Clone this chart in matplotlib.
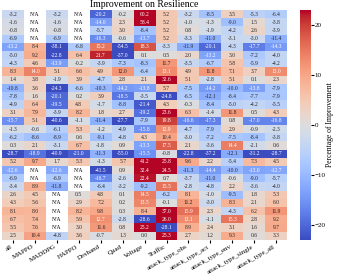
import numpy as np
import pandas as pd
import matplotlib
matplotlib.use('Agg')
import matplotlib.pyplot as plt
import seaborn as sns

nan = np.nan

columns = ['all', 'MAPPO', 'MADDPG', 'HAPPO', 'Dexhand', 'Quad', 'Voltage', 'Traffic',
           'attack_type_obs', 'attack_type_act', 'attack_type_env',
           'attack_type_single', 'attack_type_all']

all_algos = [-3.2, -1.6, -0.8, -6.9, -13.2, -5.0, -4.3, 8.3, 1.4, -10.8, -7.8, -4.9, 3.1, -15.7,
             -1.3, -6.2, 0.3, -28.7, 5.2, -12.6, -6.9, -3.4, 2.6, 4.3, 8.1, 6.7, 5.5, 2.5]
mappo = [nan, nan, nan, nan, 8.4, 9.2, 4.6, 14.0, 3.8, 3.6, 1.6, 6.4, 7.9, 5.1,
         -0.6, -8.6, 2.1, -18.9, 9.7, nan, nan, 8.9, 4.5, 5.6, 8.0, 7.4, 7.6, 10.4]
maddpg = [-3.2, -1.6, -0.8, -6.9, -38.1, -22.8, -13.9, 5.1, -1.9, -24.3, -20.1, -19.5, -3.9, -40.6,
          -6.1, -8.9, -3.1, -40.9, 1.7, -12.6, -6.9, -11.8, nan, nan, nan, nan, nan, -4.8]
happo = [nan, nan, nan, nan, -6.8, 6.4, -0.2, 6.6, 3.9, -6.6, 0.2, 4.8, 8.2, -1.1,
         5.3, 0.6, 6.7, -21.0, 5.3, nan, nan, nan, 0.5, 2.9, 8.2, 5.9, 3.0, 3.6]
dexhand = [-20.2, -14.0, -5.7, -16.3, 15.2, 21.7, -3.9, 4.9, -4.7, -10.3, 3.9, -1.7, 1.8, -11.4,
           -1.2, -9.1, -1.8, -11.3, -1.3, -41.5, -16.7, -6.4, 4.8, 7.2, 9.8, 12.7, 11.6, -0.7]
quad = [-0.2, 2.3, 3.0, -0.6, -54.5, -37.0, -7.3, 12.0, 2.8, -14.2, -18.5, -8.8, 2.7, -27.7,
        -4.9, -4.8, 0.9, -55.0, 5.7, 0.9, -2.6, -3.2, 0.1, 0.2, 0.3, -2.8, 0.8, 1.3]
voltage = [60.2, 58.4, -8.4, -13.7, 18.3, 0.1, -8.3, -6.4, 2.1, -13.8, -3.5, -21.4, -19.2, -7.9,
           -15.8, 4.3, -13.3, -15.5, 41.2, 32.4, 22.4, -9.2, 14.5, 13.5, 8.4, -28.6, 25.2, 0.0]
traffic = [5.2, 5.2, 5.2, 5.2, -3.3, 0.5, 11.7, 13.1, 32.6, 5.7, -24.8, 4.3, 23.6, 19.8,
           12.9, 10.4, 17.5, -0.8, 25.8, 24.5, 0.7, 15.5, -6.2, -0.1, 37.0, 26.0, -28.1, 25.3]
atk_obs = [-3.2, -1.0, 0.8, -3.3, -11.9, 2.0, -3.5, 4.9, 5.1, -7.5, -6.5, -0.3, 6.3, -16.6,
           -4.7, -3.0, 2.1, -22.8, 9.6, -11.3, -3.7, -2.8, 8.1, 11.2, 15.9, 13.1, 8.9, 2.7]
atk_act = [-8.5, -1.3, -1.9, -11.0, -20.1, -13.2, -6.7, 11.8, -2.8, -14.2, -12.1, -8.4, -1.4, -17.3,
           -7.9, -7.2, -3.6, -37.2, 2.2, -14.4, -11.0, -4.8, -1.0, -3.0, 2.3, -1.1, 2.4, 1.2]
atk_env = [3.5, -9.0, -4.2, -3.1, -4.3, 3.0, 5.8, 7.1, 5.1, -10.0, -8.4, -5.0, 11.8, 0.8,
           2.9, -7.5, 14.4, -12.1, -5.4, -10.0, -0.6, 2.2, -9.5, 8.3, -4.3, 15.3, 3.1, 9.3]
atk_single = [-5.3, 1.5, 2.6, -3.0, -17.7, -7.2, -5.9, 3.7, 0.1, -13.8, -7.7, -4.2, 0.5, -17.0,
              -0.9, -8.4, -2.1, -31.2, 7.3, -13.0, -9.0, -3.6, 1.8, 2.1, 6.2, 2.8, 1.6, 0.6]
atk_all = [-6.4, -3.8, -3.9, -11.4, -14.3, -4.0, -4.2, 13.0, 2.3, -7.9, -7.9, -5.5, 4.3, -16.8,
           -2.3, -3.8, 0.6, -28.7, 4.5, -12.7, -5.7, -4.0, 5.3, 6.0, 11.9, 9.2, 9.7, 3.3]

df = pd.DataFrame(dict(zip(columns, [all_algos, mappo, maddpg, happo, dexhand, quad, voltage,
                                     traffic, atk_obs, atk_act, atk_env, atk_single, atk_all])))

plt.rcParams['font.family'] = 'Liberation Serif'

fig = plt.figure(figsize=(3.37, 2.78), dpi=100)
ax = fig.add_axes([0.006, 0.137, 0.846, 0.827])
cax = fig.add_axes([0.89, 0.137, 0.032, 0.827])

sns.heatmap(df, ax=ax, cbar_ax=cax, cmap='coolwarm', vmin=-23, vmax=23,
            annot=True, fmt='.1f', annot_kws={'fontsize': 4})

# N/A cells are left blank by seaborn, write the label in
for i, j in zip(*np.where(df.isna().values)):
    ax.text(j + 0.5, i + 0.5, 'N/A', ha='center', va='center', fontsize=4)

ax.set_yticks([])
ax.set_xticklabels(columns, rotation=30, ha='right', fontsize=5)
ax.tick_params(axis='x', length=2, pad=1)
ax.set_title('Improvement on Resilience', fontsize=7, pad=2)

cax.tick_params(labelsize=5, length=2, pad=1)
cax.set_ylabel('Percentage of Improvement', fontsize=5.5, labelpad=0)

fig.savefig('out.png', dpi=100)
